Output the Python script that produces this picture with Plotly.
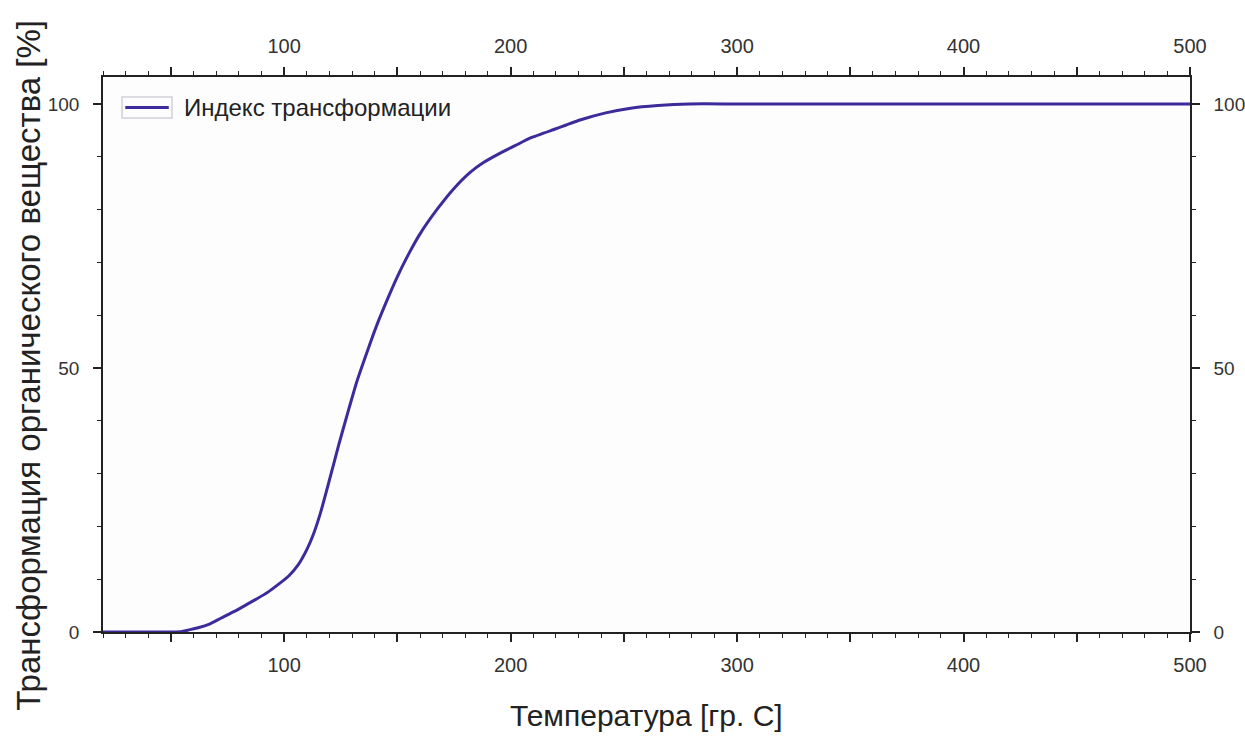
import plotly.graph_objects as go

# Data
temperature = [20, 30, 40, 50, 55, 58, 62, 67, 72, 78, 83, 88, 93, 98, 102, 106, 110, 113, 116,
               120, 124, 128, 132, 137, 141, 146, 150, 155, 160, 168, 175, 182,
               188, 195, 202, 209, 220, 231, 242, 253, 265, 279, 300, 350, 400, 450, 500]
transformation = [0, 0, 0, 0, 0.1, 0.4, 0.8, 1.5, 2.6, 3.9, 5.1, 6.3, 7.6, 9.2, 10.6, 12.6, 15.6, 18.6, 22.5,
                  28.8, 35.3, 41.4, 47.3, 53.5, 58.2, 63.4, 67.3, 71.6, 75.4, 80.3, 84.0, 87.0,
                  88.9, 90.6, 92.1, 93.6, 95.3, 97.0, 98.3, 99.2, 99.7, 100.0, 100, 100, 100, 100, 100]

series_name = "Индекс трансформации"
x_title = "Температура [гр. C]"
y_title = "Трансформация органического вещества [%]"
x_tickvals = [50, 100, 150, 200, 250, 300, 350, 400, 450, 500]
x_ticktext = ["", "100", "", "200", "", "300", "", "400", "", "500"]
y_tickvals = [0, 50, 100]
y_ticktext = ["0", "50", "100"]

line_color = "#3d2b9c"
axis_color = "#222222"
font_family = "Liberation Sans, Arial, sans-serif"
x_tick_font = dict(family=font_family, size=20, color="#333333")
y_tick_font = dict(family=font_family, size=19, color="#333333")

fig = go.Figure()
fig.add_trace(go.Scatter(
    x=temperature, y=transformation, mode="lines", name=series_name,
    line=dict(color=line_color, width=3, shape="spline", smoothing=0.5),
    xaxis="x", yaxis="y", showlegend=False,
))

common_x = dict(range=[20, 500], tickmode="array", tickvals=x_tickvals, ticktext=x_ticktext,
                ticks="outside", ticklen=8, tickwidth=1.5, tickcolor=axis_color,
                showline=True, linecolor=axis_color, linewidth=1.5, showgrid=False, zeroline=False,
                tickfont=x_tick_font, automargin=False,
                minor=dict(dtick=10, tick0=0, ticks="outside", ticklen=4, tickwidth=1.2,
                           tickcolor=axis_color, showgrid=False))
common_y = dict(range=[0, 105.1], tickmode="array", tickvals=y_tickvals, ticktext=y_ticktext,
                ticks="outside", ticklen=8, tickwidth=1.5, tickcolor=axis_color,
                showline=True, linecolor=axis_color, linewidth=1.5, showgrid=False, zeroline=False,
                tickfont=y_tick_font, automargin=False,
                minor=dict(dtick=10, tick0=0, ticks="outside", ticklen=4, tickwidth=1.2,
                           tickcolor=axis_color, showgrid=False))

fig.update_layout(
    width=1245, height=736,
    margin=dict(l=103, r=55, t=77, b=104, autoexpand=False),
    paper_bgcolor="#ffffff",
    plot_bgcolor="#fdfdfe",
    font=dict(family=font_family, color="#222222"),
    showlegend=False,
    xaxis=dict(common_x, side="bottom", ticklabelstandoff=6),
    xaxis2=dict(common_x, side="top", overlaying="x", matches="x", anchor="y", ticklabelstandoff=6),
    yaxis=dict(common_y, side="left", ticklabelstandoff=10),
    yaxis2=dict(common_y, side="right", overlaying="y", matches="y", anchor="x", ticklabelstandoff=10),
)

# dummy trace so the top/right axes render
fig.add_trace(go.Scatter(x=[None], y=[None], xaxis="x2", yaxis="y2", showlegend=False, hoverinfo="skip"))

# legend drawn by hand (box around the line sample, text to its right)
fig.add_shape(type="rect", xref="paper", yref="paper", x0=0.0175, x1=0.0635, y0=0.926, y1=0.964,
              line=dict(color="#d0d0d8", width=1.5), fillcolor="rgba(255,255,255,0)")
fig.add_shape(type="line", xref="paper", yref="paper", x0=0.0205, x1=0.0605, y0=0.945, y1=0.945,
              line=dict(color=line_color, width=3))
fig.add_annotation(text=series_name, xref="paper", yref="paper", x=0.0727, y=0.945, xanchor="left",
                   yanchor="middle", showarrow=False,
                   font=dict(family=font_family, size=24, color="#222222"))

fig.add_annotation(text=x_title, xref="paper", yref="paper", x=0.5, y=-0.150, xanchor="center",
                   yanchor="middle", showarrow=False, font=dict(family=font_family, size=30, color="#222222"))
fig.add_annotation(text=y_title, xref="paper", yref="paper", x=-0.068, y=0.48, xanchor="center",
                   yanchor="middle", textangle=-90, showarrow=False,
                   font=dict(family=font_family, size=33, color="#222222"))

fig.write_html("out.html")
